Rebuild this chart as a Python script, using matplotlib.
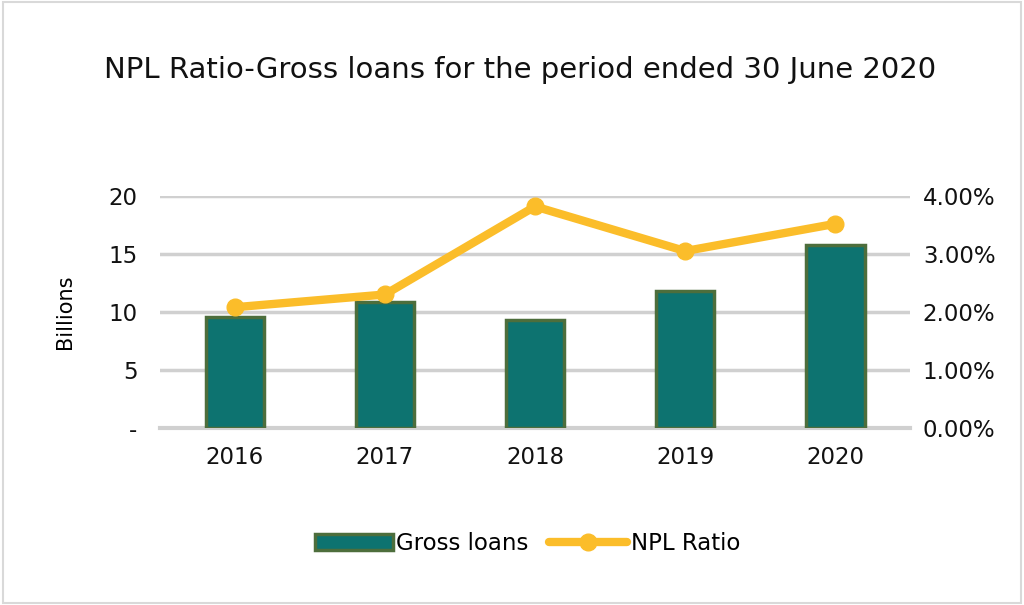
import matplotlib.pyplot as plt
import numpy as np
from matplotlib.ticker import FuncFormatter

years = ["2016", "2017", "2018", "2019", "2020"]
gross_loans = [9.55, 10.85, 9.3, 11.8, 15.8]  # billions
npl_ratio = [2.08, 2.3, 3.82, 3.05, 3.52]  # percent

bar_color = "#0d7370"
bar_edge = "#4d6e3c"
line_color = "#fbbd2a"

fig = plt.figure(figsize=(10.24, 6.05), dpi=100)
ax = fig.add_axes([0.156, 0.293, 0.733, 0.383])
ax2 = ax.twinx()

x = np.arange(len(years))
bars = ax.bar(x, gross_loans, 0.39, color=bar_color, edgecolor=bar_edge,
              linewidth=2.5, label="Gross loans", zorder=2)
line, = ax2.plot(x, npl_ratio, color=line_color, linewidth=6, marker="o",
                 markersize=12, label="NPL Ratio", solid_capstyle="round")

ax.set_xlim(-0.5, len(years) - 0.5)
ax.set_ylim(0, 20)
ax.set_yticks([0, 5, 10, 15, 20])
ax.yaxis.set_major_formatter(FuncFormatter(lambda v, p: "-" if v == 0 else f"{v:.0f}"))
ax2.set_ylim(0, 4)
ax2.set_yticks([0, 1, 2, 3, 4])
ax2.yaxis.set_major_formatter(FuncFormatter(lambda v, p: f"{v:.2f}%"))

ax.set_xticks(x)
ax.set_xticklabels(years)
ax.grid(axis="y", color="#d0d0d0", linewidth=2.5, zorder=0)
ax.axhline(0, color="#d0d0d0", linewidth=3, zorder=0, clip_on=False)
ax.set_axisbelow(True)

for a in (ax, ax2):
    for s in a.spines.values():
        s.set_visible(False)
    a.tick_params(length=0, labelsize=16.5, colors="#111111")
ax.tick_params(axis="x", pad=13)
ax.tick_params(axis="y", pad=16)
ax2.tick_params(axis="y", pad=9)

ax.set_ylabel("Billions", fontsize=15, labelpad=24)

fig.text(0.508, 0.885, "NPL Ratio-Gross loans for the period ended 30 June 2020",
         ha="center", va="center", fontsize=21, color="#111111")

fig.legend([bars, line], ["Gross loans", "NPL Ratio"], loc="center",
           bbox_to_anchor=(0.515, 0.102), ncol=2, frameon=False, fontsize=16.5,
           handlelength=3.4, handletextpad=0.15, columnspacing=0.9)

fig.patches.append(plt.Rectangle((0.003, 0.003), 0.994, 0.994, transform=fig.transFigure,
                                 fill=False, edgecolor="#d9d9d9", linewidth=1.5))

fig.savefig("out.png", dpi=100)
